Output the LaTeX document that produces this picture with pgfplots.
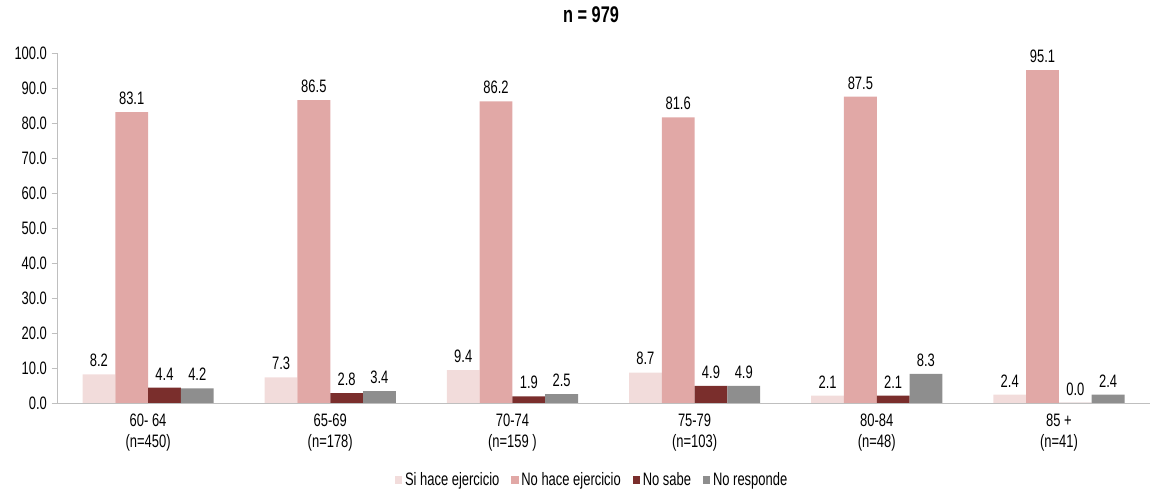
\documentclass[border=0pt]{standalone}
\usepackage{fontspec}
\setmainfont[FakeStretch=0.72]{Liberation Sans}
\usepackage{pgfplots}
\pgfplotsset{compat=1.18}
\usetikzlibrary{calc}
\definecolor{c1}{HTML}{F2DCDB}
\definecolor{c2}{HTML}{E1A8A6}
\definecolor{c3}{HTML}{7A2E2C}
\definecolor{c4}{HTML}{8E8E8E}
\definecolor{axgray}{HTML}{BFBFBF}
\begin{document}
\begin{tikzpicture}
\begin{axis}[name=ax, scale only axis, width=819.75pt, height=262.5pt,
  ymin=0, ymax=100, xmin=-0.5, xmax=5.5,
  ybar=0pt, bar width=0.18,
  axis x line*=bottom, axis y line*=left,
  axis line style={draw=axgray},
  tick style={draw=axgray},
  tick align=outside, major tick length=4pt,
  ytick={0,10,...,100},
  yticklabel style={/pgf/number format/fixed, /pgf/number format/zerofill, /pgf/number format/precision=1, /pgf/number format/assume math mode=true, font=\fontsize{13.5}{15}\selectfont},
  xtick={0,1,2,3,4,5},
  xticklabels={{60- 64\\(n=450)},{65-69\\(n=178)},{70-74\\(n=159 )},{75-79\\(n=103)},{80-84\\(n=48)},{85 +\\(n=41)}},
  xticklabel style={align=center, font=\fontsize{13.5}{15.5}\selectfont, yshift=-1pt},
  x tick style={draw=none},
  extra x ticks={0.5,1.5,2.5,3.5,4.5},
  extra x tick labels={},
  extra x tick style={tick style={draw=axgray}},
  title={n = 979},
  title style={font=\bfseries\fontsize{17}{19}\selectfont, at={(0.4886,1)}, anchor=center, yshift=23pt},
  nodes near coords={\pgfmathprintnumber[fixed,zerofill,precision=1,assume math mode=true]{\pgfplotspointmeta}},
  every node near coord/.append style={font=\fontsize{13.5}{15}\selectfont, text=black, yshift=2pt},
  legend style={draw=none, at={(0.4899,-0.22)}, anchor=center, font=\fontsize{13.5}{15}\selectfont, legend columns=4,
    /tikz/every even column/.append style={column sep=7pt}},
  legend image code/.code={\fill[#1, draw=none] (0pt,-3pt) rectangle (5.5pt,3pt);},
]
\addplot[fill=c1, draw=none] coordinates {(0,8.2) (1,7.3) (2,9.4) (3,8.7) (4,2.1) (5,2.4)};
\addplot[fill=c2, draw=none] coordinates {(0,83.1) (1,86.5) (2,86.2) (3,81.6) (4,87.5) (5,95.1)};
\addplot[fill=c3, draw=none] coordinates {(0,4.4) (1,2.8) (2,1.9) (3,4.9) (4,2.1) (5,0.0)};
\addplot[fill=c4, draw=none] coordinates {(0,4.2) (1,3.4) (2,2.5) (3,4.9) (4,8.3) (5,2.4)};
\legend{Si hace ejercicio, No hace ejercicio, No sabe, No responde}
\end{axis}
\pgfresetboundingbox
\path[use as bounding box] ($(ax.south west)+(-42.75pt,-66pt)$) rectangle ($(ax.north east)+(9pt,39.75pt)$);
\end{tikzpicture}
\end{document}
